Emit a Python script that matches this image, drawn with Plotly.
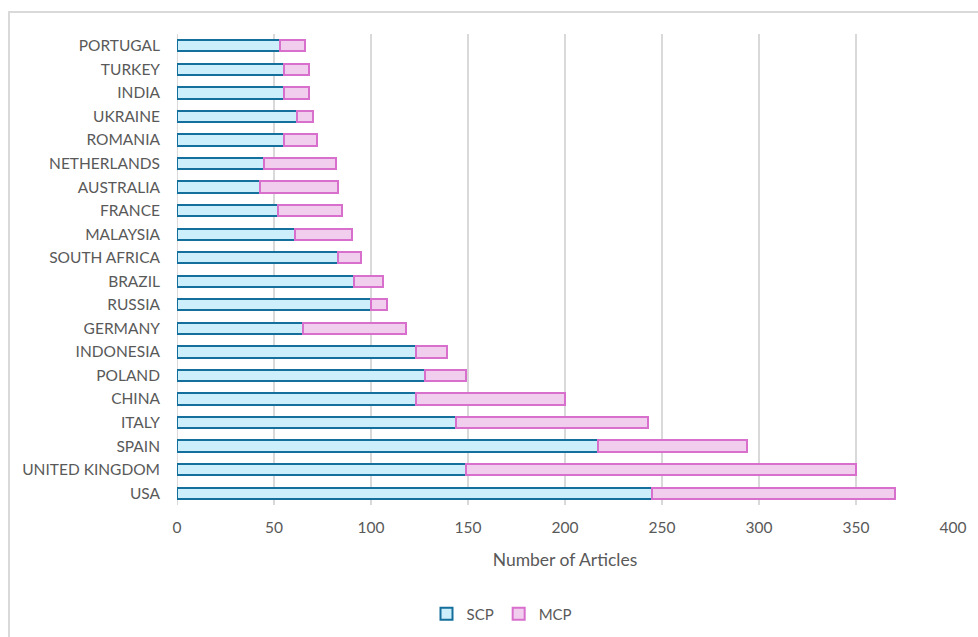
import plotly.graph_objects as go

countries = ["PORTUGAL", "TURKEY", "INDIA", "UKRAINE", "ROMANIA", "NETHERLANDS",
             "AUSTRALIA", "FRANCE", "MALAYSIA", "SOUTH AFRICA", "BRAZIL", "RUSSIA",
             "GERMANY", "INDONESIA", "POLAND", "CHINA", "ITALY", "SPAIN",
             "UNITED KINGDOM", "USA"]
scp = [53, 55, 55, 62, 55, 45, 43, 52, 61, 83, 91, 100, 65, 123, 128, 123, 144, 217, 149, 245]
mcp = [13, 13, 13, 8, 17, 37, 40, 33, 29, 12, 15, 8, 53, 16, 21, 77, 99, 77, 201, 125]
x_ticks = [0, 50, 100, 150, 200, 250, 300, 350, 400]

font_family = "Lato, 'Open Sans', sans-serif"
grey_text = "#595959"
grid = "#D9D9D9"

fig = go.Figure()
fig.add_trace(go.Bar(
    y=countries, x=scp, name="SCP", orientation="h",
    marker=dict(color="#CDEEFB", line=dict(color="#156F9C", width=2)),
))
fig.add_trace(go.Bar(
    y=countries, x=mcp, name="MCP", orientation="h",
    marker=dict(color="#F2CEEE", line=dict(color="#D96FCC", width=2)),
))

L, R, T, B = 177, 25, 34, 132
W, H = 978, 637
pw, ph = W - L - R, H - T - B

fig.update_layout(
    width=W, height=H,
    margin=dict(l=L, r=R, t=T, b=B, pad=0, autoexpand=False),
    barmode="stack", bargap=0.52,
    plot_bgcolor="white", paper_bgcolor="white",
    font=dict(family=font_family, color=grey_text, size=15),
    showlegend=True,
    legend=dict(orientation="h", x=(502 - L) / pw, xanchor="center",
                y=-(614 - (T + ph)) / ph, yanchor="middle",
                font=dict(size=15, color=grey_text), traceorder="normal",
                itemwidth=30),
    xaxis=dict(range=[0, 400], tickvals=x_ticks, showgrid=True, gridcolor=grid,
               gridwidth=2, zeroline=False, showline=False, ticks="",
               automargin=False,
               tickfont=dict(size=15.5, color=grey_text), ticklabelstandoff=11,
               title=dict(text="Number of Articles", font=dict(size=17.5, color=grey_text),
                          standoff=19)),
    yaxis=dict(categoryorder="array", categoryarray=countries[::-1],
               showgrid=False, zeroline=False, automargin=False,
               showline=False, ticks="", tickfont=dict(size=15.5, color=grey_text),
               ticklabelstandoff=16),
    shapes=[
        dict(type="line", xref="x", yref="paper", x0=0, x1=0, y0=0, y1=1,
             line=dict(color=grid, width=2), layer="below"),
        dict(type="rect", xref="paper", yref="paper",
             x0=(9 - L) / pw, x1=(990 - L) / pw,
             y0=-(660 - T - ph) / ph, y1=1 + (T - 12) / ph,
             line=dict(color=grid, width=2), fillcolor="rgba(0,0,0,0)", layer="below"),
    ],
)

fig.write_html("out.html")
